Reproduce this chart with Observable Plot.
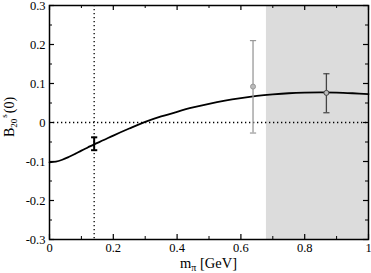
<!DOCTYPE html>
<html>
<head>
<meta charset="utf-8">
<script src="https://cdn.jsdelivr.net/npm/d3@7"></script>
<script src="https://cdn.jsdelivr.net/npm/@observablehq/plot@0.6"></script>
<style>
html,body{margin:0;padding:0;background:#fff;}
svg{display:block;}
</style>
</head>
<body>
<div id="chart"></div>
<script>
// fit curve
const curveX = [0, 0.02, 0.04, 0.06, 0.08, 0.1, 0.12, 0.14, 0.17, 0.2, 0.25, 0.3, 0.35, 0.4, 0.45, 0.5, 0.55, 0.6, 0.65, 0.7, 0.75, 0.8, 0.85, 0.9, 0.95, 1.0];
const curveY = [-0.102, -0.1005, -0.0955, -0.0885, -0.0805, -0.072, -0.064, -0.056, -0.045, -0.0335, -0.0155, 0.0015, 0.0155, 0.0275, 0.0385, 0.048, 0.056, 0.0625, 0.068, 0.072, 0.075, 0.0765, 0.077, 0.0765, 0.075, 0.073];
// data points with error bars
const pointX = [0.14, 0.638, 0.868];
const pointY = [-0.055, 0.092, 0.076];
const errLow = [-0.071, -0.027, 0.025];
const errHigh = [-0.038, 0.210, 0.125];
const pointColor = ["#000", "#999", "#444"];
const pointCircle = [false, true, true];
// shaded region and reference lines
const shadeX = [0.68, 1.0];
const physMass = 0.14;
// ticks
const xMajor = [0, 0.2, 0.4, 0.6, 0.8, 1];
const xMinor = [0.1, 0.3, 0.5, 0.7, 0.9];
const xLabels = ["0", "0.2", "0.4", "0.6", "0.8", "1"];
const yMajor = [-0.3, -0.2, -0.1, 0, 0.1, 0.2, 0.3];
const yMinor = [-0.25, -0.15, -0.05, 0.05, 0.15, 0.25];
const yLabels = ["-0.3", "-0.2", "-0.1", "0", "0.1", "0.2", "0.3"];

const W = 371, H = 273, mT = 5, mB = 34, mL = 49, mR = 3;
const fh = H - mT - mB, fw = W - mL - mR;
const curve = curveX.map((x, i) => ({x, y: curveY[i]}));
const pts = pointX.map((x, i) => ({x, y: pointY[i], lo: errLow[i], hi: errHigh[i], c: pointColor[i], circ: pointCircle[i]}));
const capSym = {draw(ctx, size) { const r = Math.sqrt(size) / 2; ctx.moveTo(-r, 0); ctx.lineTo(r, 0); }};
const font = "Liberation Serif, DejaVu Serif, serif";

const chart = Plot.plot({
  width: W, height: H,
  marginTop: mT, marginBottom: mB, marginLeft: mL, marginRight: mR,
  style: {fontFamily: font, fontSize: "12.5px", background: "#fff"},
  x: {domain: [0, 1]},
  y: {domain: [-0.3, 0.3]},
  marks: [
    Plot.rect([shadeX], {x1: d => d[0], x2: d => d[1], y1: -0.3, y2: 0.3, fill: "#dcdcdc"}),
    Plot.ruleY([0], {stroke: "#000", strokeWidth: 1.3, strokeDasharray: "1.3,2.7"}),
    Plot.ruleX([physMass], {stroke: "#000", strokeWidth: 1.3, strokeDasharray: "1.3,2.7"}),
    Plot.line(curve, {x: "x", y: "y", curve: "catmull-rom", stroke: "#000", strokeWidth: 1.8}),
    Plot.ruleX(pts, {x: "x", y1: "lo", y2: "hi", stroke: d => d.c, strokeWidth: (d => d.circ ? 1.3 : 2)}),
    Plot.dot(pts, {x: "x", y: "lo", symbol: capSym, r: 3.5, stroke: d => d.c, strokeWidth: (d => d.circ ? 1.2 : 2)}),
    Plot.dot(pts, {x: "x", y: "hi", symbol: capSym, r: 3.5, stroke: d => d.c, strokeWidth: (d => d.circ ? 1.2 : 2)}),
    Plot.dot(pts.filter(d => d.circ), {x: "x", y: "y", r: 2.5, stroke: d => d.c, fill: "#bbb", strokeWidth: 1}),
    // inward ticks
    Plot.ruleX(xMajor, {x: d => d, insetTop: fh - 5, stroke: "#000", strokeWidth: 1.2}),
    Plot.ruleX(xMajor, {x: d => d, insetBottom: fh - 5, stroke: "#000", strokeWidth: 1.2}),
    Plot.ruleX(xMinor, {x: d => d, insetTop: fh - 3, stroke: "#000", strokeWidth: 1}),
    Plot.ruleX(xMinor, {x: d => d, insetBottom: fh - 3, stroke: "#000", strokeWidth: 1}),
    Plot.ruleY(yMajor, {y: d => d, insetRight: fw - 5, stroke: "#000", strokeWidth: 1.2}),
    Plot.ruleY(yMajor, {y: d => d, insetLeft: fw - 5, stroke: "#000", strokeWidth: 1.2}),
    Plot.ruleY(yMinor, {y: d => d, insetRight: fw - 3, stroke: "#000", strokeWidth: 1}),
    Plot.ruleY(yMinor, {y: d => d, insetLeft: fw - 3, stroke: "#000", strokeWidth: 1}),
    Plot.frame({stroke: "#000", strokeWidth: 1.5}),
    Plot.axisX(xMajor, {tickSize: 0, tickPadding: 4, tickFormat: (d, i) => xLabels[i], fontSize: 12.5, fill: "#000", label: null}),
    Plot.axisY(yMajor, {tickSize: 0, tickPadding: 4, tickFormat: (d, i) => yLabels[i], fontSize: 12.5, fill: "#000", label: null})
  ]
});

const svg = d3.select(chart);
// x label
const xl = svg.append("text")
  .attr("x", mL + fw / 2).attr("y", H - 5)
  .attr("text-anchor", "middle")
  .attr("font-family", font).attr("font-size", 14.5).attr("fill", "#000");
xl.append("tspan").text("m");
xl.append("tspan").attr("dy", 3).attr("font-size", 10).text("π");
xl.append("tspan").attr("dy", -3).text(" [GeV]");
// y label
const yl = svg.append("text")
  .attr("transform", `translate(14,117) rotate(-90)`)
  .attr("text-anchor", "middle")
  .attr("font-family", font).attr("font-size", 14).attr("fill", "#000");
yl.append("tspan").text("B");
yl.append("tspan").attr("dy", 3).attr("font-size", 9).text("20");
yl.append("tspan").attr("dx", 1).attr("dy", -10).attr("font-size", 9).text("s");
yl.append("tspan").attr("dx", 1).attr("dy", 7).text("(0)");

document.getElementById("chart").appendChild(chart);
</script>
</body>
</html>
